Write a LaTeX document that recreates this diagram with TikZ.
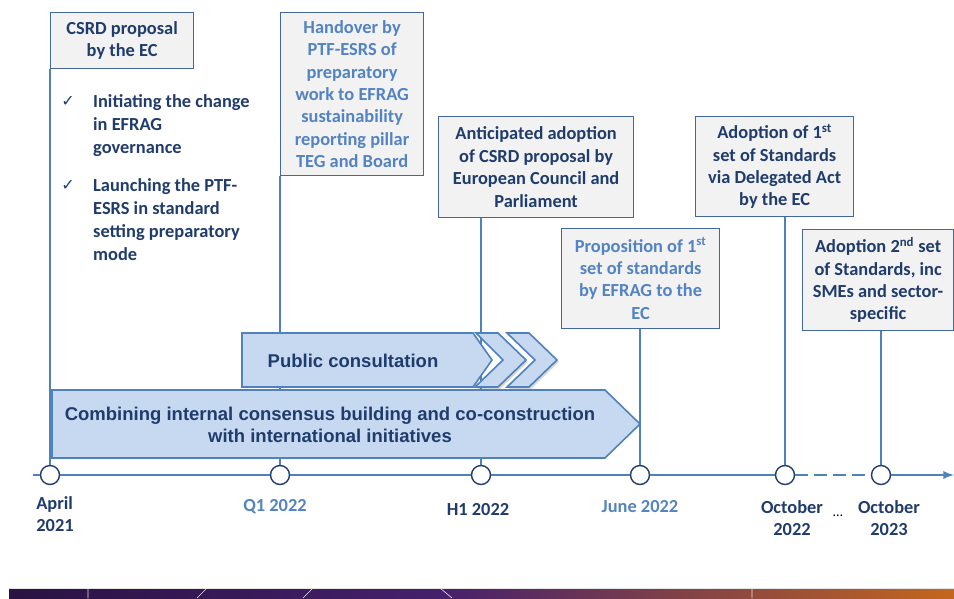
\documentclass[tikz,border=0pt]{standalone}
\usepackage{fontspec}
\setmainfont{Carlito}
\newfontfamily\arrowfont{Liberation Sans}
\newfontfamily\tickfont{DejaVu Sans}
\usepackage{tikz}
\usetikzlibrary{arrows,positioning,shadows}

\definecolor{efdark}{HTML}{203C6C}
\definecolor{eflight}{HTML}{5383C2}
\definecolor{efline}{HTML}{4F81BD}
\definecolor{efborder}{HTML}{44679C}
\definecolor{effill}{HTML}{F2F2F2}
\definecolor{efarrow}{HTML}{C6D9F1}
\definecolor{bandstart}{HTML}{2A1242}
\definecolor{bandviolet}{HTML}{45206C}
\definecolor{bandbrown}{HTML}{7E3C3A}
\definecolor{bandorange}{HTML}{C4661E}

\tikzset{
  milestone/.style={draw=efborder, line width=1.2pt, fill=effill, align=center,
    font=\bfseries\fontsize{18.4}{22.4}\selectfont, text=efdark,
    anchor=north west, inner sep=0pt},
  future/.style={milestone, text=eflight},
  dot/.style={circle, draw=efdark, fill=white, line width=1.4pt,
    minimum size=19pt, inner sep=0pt},
  stem/.style={efline, line width=1.1pt},
  timeline/.style={efline, line width=2.6pt},
  phase/.style={draw=efline, line width=1.6pt, fill=efarrow},
  phasetext/.style={font=\arrowfont\bfseries\fontsize{18.5}{22}\selectfont,
    text=efdark, align=center},
  checkitem/.style={font=\bfseries\fontsize{18.4}{23}\selectfont, text=efdark,
    align=left, anchor=north west, inner sep=0pt},
  tick/.style={font=\tickfont\fontsize{16}{16}\selectfont, text=efdark, inner sep=0pt},
  datelbl/.style={font=\bfseries\fontsize{18.4}{22}\selectfont, text=efdark, align=center},
}

\begin{document}
\begin{tikzpicture}[x=1pt,y=-1pt,>=latex]
  \clip (0,0) rectangle (954,598);

  % boxes above the time line
  \node[milestone, minimum width=143, minimum height=56] (csrd) at (50,12)
    {CSRD proposal\\by the EC};
  \node[future, minimum width=143, minimum height=163] (handover) at (280,12)
    {Handover by\\PTF-ESRS of\\preparatory\\work to EFRAG\\sustainability\\reporting pillar\\TEG and Board};
  \node[milestone, minimum width=195, minimum height=101] (anticip) at (438,116)
    {Anticipated adoption\\of CSRD proposal by\\European Council and\\Parliament};
  \node[milestone, minimum width=158, minimum height=100] (adopt1) at (695,116)
    {Adoption of 1\textsuperscript{st}\\set of Standards\\via Delegated Act\\by the EC};
  \node[future, minimum width=158, minimum height=100] (propos) at (561,228)
    {Proposition of 1\textsuperscript{st}\\set of standards\\by EFRAG to the\\EC};
  \node[milestone, minimum width=151, minimum height=101] (adopt2) at (802,229)
    {Adoption 2\textsuperscript{nd} set\\of Standards, inc\\SMEs and sector-\\specific};

  \node[checkitem] (item1) at (93,94) {Initiating the change\\in EFRAG\\governance};
  \node[checkitem, below=22pt of item1.south west, anchor=north west] (item2)
    {Launching the PTF-\\ESRS in standard\\setting preparatory\\mode};
  \node[tick, below left=2pt and 18pt of item1.north west] (tick1) {✓};
  \node[tick, below left=2pt and 18pt of item2.north west] (tick2) {✓};

  % time line
  \node[dot] (apr21) at (50,475) {};
  \node[dot] (q1) at (280,475) {};
  \node[dot] (h1) at (481,475) {};
  \node[dot] (jun22) at (640,475) {};
  \node[dot] (oct22) at (785,475) {};
  \node[dot] (oct23) at (881,475) {};
  \coordinate (tstart) at (33,475);
  \coordinate (tend) at (954,475);

  \draw[timeline] (tstart) -- (apr21) -- (q1) -- (h1) -- (jun22) -- (oct22);
  \draw[timeline, dash pattern=on 13pt off 6pt] (oct22) -- (oct23);
  \draw[timeline, ->] (oct23) -- (tend);

  \draw[stem] (csrd.south west) -- (apr21);
  \draw[stem] (handover.south west) -- (q1);
  \draw[stem] (anticip.south -| h1) -- (h1);
  \draw[stem] (propos.south -| jun22) -- (jun22);
  \draw[stem] (adopt1.south -| oct22) -- (oct22);
  \draw[stem] (adopt2.south -| oct23) -- (oct23);

  % work streams
  \draw[phase] (52,390) -- (605,390) -- (640,424) -- (605,458) -- (52,458) -- cycle;
  \node[phasetext] (combine) at (330,425)
    {Combining internal consensus building and co-construction\\with international initiatives};
  \draw[phase] (242,333) -- (473,333) -- (492,360) -- (473,387) -- (242,387) -- cycle;
  \node[phasetext] (pubcons) at (353,361) {Public consultation};
  \draw[phase, drop shadow={opacity=0.3, shadow xshift=2pt, shadow yshift=-2pt}]
    (476,333) -- (498,333) -- (526,360) -- (498,387) -- (475,387) -- (503,360) -- cycle;
  \draw[phase, drop shadow={opacity=0.3, shadow xshift=2pt, shadow yshift=-2pt}]
    (507,333) -- (529,333) -- (557,360) -- (529,387) -- (507,387) -- (535,360) -- cycle;

  % dates
  \node[datelbl, align=left] (lapr21) at (55,514) {April\\2021};
  \node[datelbl, text=eflight] (lq1) at (275,507) {Q1 2022};
  \node[datelbl] (lh1) at (478,510) {H1 2022};
  \node[datelbl, text=eflight] (ljun22) at (640,507) {June 2022};
  \node[datelbl] (loct22) at (792,518) {October\\2022};
  \node[font=\fontsize{14}{14}\selectfont] (gap) at (838,516) {\dots};
  \node[datelbl] (loct23) at (889,518) {October\\2023};

  % slide footer band
  \shade[left color=bandstart, right color=bandviolet] (9,588) rectangle (440,598);
  \shade[left color=bandviolet, middle color=bandbrown, right color=bandorange]
    (440,588) rectangle (954,598);
  \draw[white!80!gray, line width=0.6pt] (9,588) -- (954,588);
  \draw[white!80!gray, line width=0.6pt] (88,588) -- (88,598) (752,588) -- (752,598)
    (207,588) -- (197,598) (313,588) -- (303,598) (440,588) -- (452,598);
\end{tikzpicture}
\end{document}
